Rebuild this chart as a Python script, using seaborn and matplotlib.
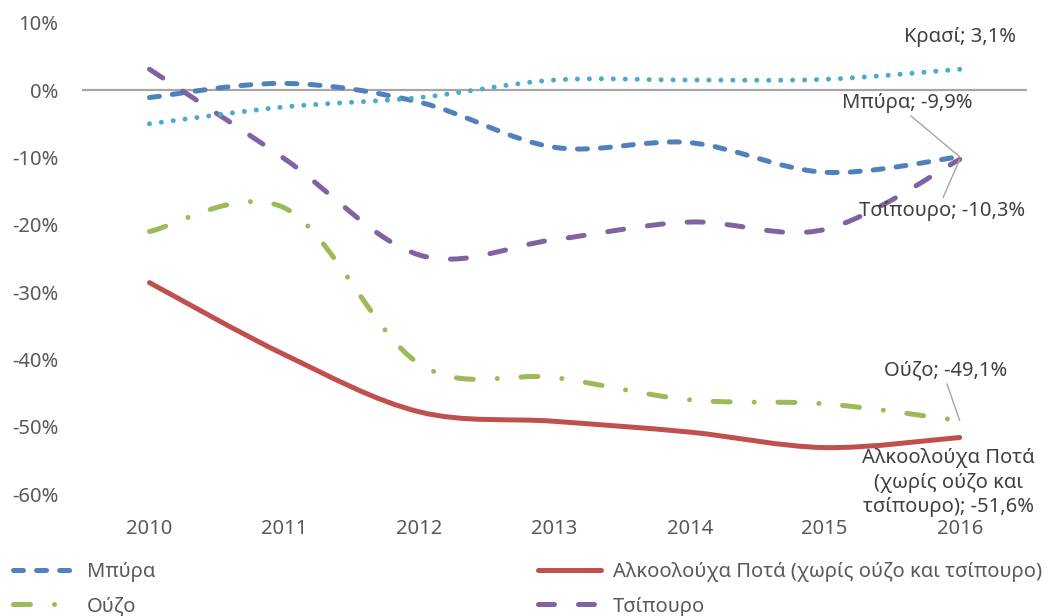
import numpy as np
import matplotlib
matplotlib.use("Agg")
import matplotlib.pyplot as plt
from matplotlib.path import Path
from matplotlib.patches import PathPatch
from matplotlib.lines import Line2D
import seaborn as sns

# values (% change vs base year)
years = [2010, 2011, 2012, 2013, 2014, 2015, 2016]
beer = [-1.1, 1.0, -1.8, -8.5, -7.8, -12.2, -9.9]
spirits = [-28.6, -39.3, -47.8, -49.2, -50.8, -53.1, -51.6]
ouzo = [-21.0, -17.5, -40.7, -42.7, -46.0, -46.6, -49.1]
tsipouro = [3.1, -10.2, -24.5, -22.2, -19.6, -20.7, -10.3]
wine = [-5.0, -2.5, -1.1, 1.5, 1.5, 1.6, 3.1]

names = ["Μπύρα", "Αλκοολούχα Ποτά (χωρίς ούζο και τσίπουρο)", "Ούζο", "Τσίπουρο", "Κρασί"]
series = [beer, spirits, ouzo, tsipouro, wine]
colors = ["#4F81BD", "#C0504D", "#9BBB59", "#8064A2", "#4BACC6"]
# dash patterns in points
styles = [(0, (7.2, 9.4)), "-", (0, (12.2, 17.3, 0.01, 17.1)), (0, (11.5, 17.3)), (0, (0.01, 8.6))]

sns.set_theme(style="white")
plt.rcParams["font.family"] = ["Noto Sans", "DejaVu Sans"]
plt.rcParams["lines.scale_dashes"] = False


def smooth_path(xs, ys):
    # excel-like smoothed line: cubic bezier through the points
    xs = np.asarray(xs, float)
    ys = np.asarray(ys, float)
    px = np.concatenate([[xs[0]], xs, [xs[-1]]])
    py = np.concatenate([[ys[0]], ys, [ys[-1]]])
    verts = [(xs[0], ys[0])]
    codes = [Path.MOVETO]
    for i in range(1, len(px) - 2):
        c1 = (px[i] + (px[i + 1] - px[i - 1]) / 6, py[i] + (py[i + 1] - py[i - 1]) / 6)
        c2 = (px[i + 1] - (px[i + 2] - px[i]) / 6, py[i + 1] - (py[i + 2] - py[i]) / 6)
        verts += [c1, c2, (px[i + 1], py[i + 1])]
        codes += [Path.CURVE4] * 3
    return Path(verts, codes)


fig = plt.figure(figsize=(10.59, 6.16), dpi=100)
ax = fig.add_axes([0.0774, 0.198, 0.8926, 0.765])

ax.axhline(0, color="#a6a6a6", lw=1.6, zorder=1)

lw = 3.6
handles = {}
for name, vals, c, ls in zip(names, series, colors, styles):
    patch = PathPatch(smooth_path(years, vals), fill=False, edgecolor=c, lw=lw,
                      linestyle=ls, capstyle="round", joinstyle="round", zorder=3)
    ax.add_patch(patch)
    handles[name] = Line2D([], [], color=c, lw=lw, linestyle=ls,
                           dash_capstyle="round", solid_capstyle="round")

ax.set_xlim(2009.5, 2016.5)
ax.set_ylim(-60, 10)
ax.set_xticks(years)
ax.set_xticklabels([str(y) for y in years])
ax.set_yticks(range(-60, 11, 10))
ax.set_yticklabels([f"{v}%" for v in range(-60, 11, 10)])
ax.tick_params(length=0, labelsize=14.5, colors="#595959")
ax.tick_params(axis="y", pad=17)
ax.tick_params(axis="x", pad=18)
sns.despine(ax=ax, left=True, bottom=True)
ax.grid(False)

# data labels at the last point
lab_kw = dict(fontsize=14.5, color="#404040", ha="center", va="center",
              textcoords="offset points", annotation_clip=False)
lead = dict(arrowstyle="-", color="#a6a6a6", lw=1, shrinkA=0, shrinkB=0)
last = years[-1]
ax.annotate(f"Κρασί; {wine[-1]:.1f}%".replace(".", ","), (last, wine[-1]),
            xytext=(0, 23), **lab_kw)
ax.annotate(f"Μπύρα; {beer[-1]:.1f}%".replace(".", ","), (last, beer[-1]),
            xytext=(-38, 39), arrowprops=dict(lead, relpos=(0.5, 0)), **lab_kw)
ax.annotate(f"Τσίπουρο; {tsipouro[-1]:.1f}%".replace(".", ","), (last, tsipouro[-1]),
            xytext=(-13, -37), arrowprops=dict(lead, relpos=(0.5, 1)), **lab_kw)
ax.annotate(f"Ούζο; {ouzo[-1]:.1f}%".replace(".", ","), (last, ouzo[-1]),
            xytext=(-10, 36), arrowprops=dict(lead, relpos=(0.5, 0)), **lab_kw)
ax.annotate(f"Αλκοολούχα Ποτά\n(χωρίς ούζο και\nτσίπουρο); {spirits[-1]:.1f}%".replace(".", ","),
            (last, spirits[-1]), xytext=(-8, -32.5), linespacing=1.3, **lab_kw)

# legend in two columns (third row falls below the picture)
order = ["Μπύρα", "Ούζο", "Κρασί", "Αλκοολούχα Ποτά (χωρίς ούζο και τσίπουρο)", "Τσίπουρο"]
leg = fig.legend([handles[n] for n in order], order, ncol=2, loc="upper left",
                 bbox_to_anchor=(0.012, 0.087), frameon=False, fontsize=14.5,
                 handlelength=3.1, handletextpad=0.6, columnspacing=19.0,
                 borderpad=0, borderaxespad=0, labelspacing=0.7)
for t in leg.get_texts():
    t.set_color("#595959")

fig.savefig("out.png", dpi=100)
